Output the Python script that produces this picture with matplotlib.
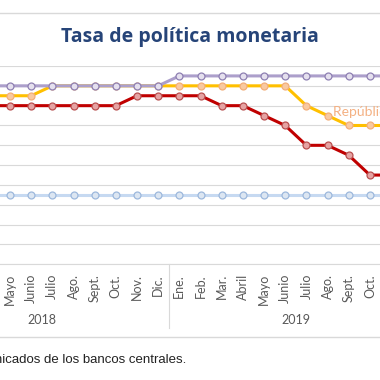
import matplotlib
matplotlib.use("Agg")
import matplotlib.pyplot as plt
import matplotlib.transforms as mtransforms

# Monthly policy rates, Jan 2018 - Dec 2019 (%)
months = ["Ene.", "Feb.", "Mar.", "Abril", "Mayo", "Junio", "Julio", "Ago.",
          "Sept.", "Oct.", "Nov.", "Dic."] * 2
years = ["2018", "2019"]
honduras = [5.5] * 12 + [5.75] * 12
rep_dominicana = [5.25] * 6 + [5.5] * 12 + [5.0, 4.75, 4.5, 4.5, 4.5, 4.5]
costa_rica = [5.0] * 10 + [5.25] * 4 + [5.0, 5.0, 4.75, 4.5, 4.0, 4.0, 3.75, 3.25, 3.25, 2.75]
guatemala = [2.75] * 24

W = 380.0
fig = plt.figure(figsize=(3.8, 3.8), dpi=100)

# the chart is wider than the picture, so the axes run off both sides
x0 = 10 - 4.5 * 21.17
x1 = 10 + 19.5 * 21.17
ax = fig.add_axes([x0 / W, (W - 264.3) / W, (x1 - x0) / W, (264.3 - 66) / W])

x = list(range(len(months)))
series = [
    (guatemala, "#C6D9F1", "#DCE6F2", "#9DB8DC"),
    (costa_rica, "#C00000", "#E6A3A3", "#B85050"),
    (rep_dominicana, "#FFC000", "#F9C9A0", "#F2AE7A"),
    (honduras, "#AC9FCB", "#E5E0EE", "#8E80B2"),
]
for vals, lc, mf, me in series:
    ax.plot(x, vals, color=lc, lw=2.2, marker="o", ms=5, mfc=mf, mec=me, mew=0.9,
            zorder=3, clip_on=False)

ax.set_xlim(-0.5, 23.5)
ax.set_ylim(1.0, 6.0)
ax.set_yticks([1.0 + 0.5 * k for k in range(11)])
ax.yaxis.grid(True, color="#D9D9D9", lw=0.8)
ax.set_axisbelow(True)
ax.tick_params(axis="y", left=False, labelleft=False)
for s in ["top", "left", "right"]:
    ax.spines[s].set_visible(False)
ax.spines["bottom"].set_color("#D9D9D9")

ax.set_xticks(x)
ax.set_xticklabels(months, rotation=90, fontsize=9, color="#595959", family="Lato")
ax.tick_params(axis="x", length=0, pad=7)

# year level of the category axis
trans = mtransforms.blended_transform_factory(ax.transData, ax.transAxes)
for k, yr in enumerate(years):
    ax.text(12 * k + 5.5, -0.28, yr, transform=trans, ha="center", va="center",
            fontsize=9, color="#595959", family="Lato")
for xs in [-0.5, 11.5, 23.5]:
    ax.plot([xs, xs], [0, -0.32], transform=trans, color="#D9D9D9", lw=0.8,
            clip_on=False)

ax.text(19.25, 4.84, "República Dominicana", color="#F4B183", fontsize=10,
        family="Lato", va="center", ha="left", clip_on=False)

fig.text(0.5, 1 - 37 / W, "Tasa de política monetaria", ha="center", va="center",
         fontsize=14, fontweight="bold", color="#264478", family="Open Sans")

# chart border (top/bottom)
for yy in [13, 337]:
    fig.add_artist(plt.Line2D([0, 1], [1 - yy / W, 1 - yy / W], color="#D9D9D9", lw=1))

fig.text(186 / W, 1 - 360 / W,
         "Fuente: elaboración propia con base en comunicados de los bancos centrales.",
         ha="right", va="center", fontsize=9.5, color="#222222", family="Liberation Sans")

fig.savefig("out.png", dpi=100)
